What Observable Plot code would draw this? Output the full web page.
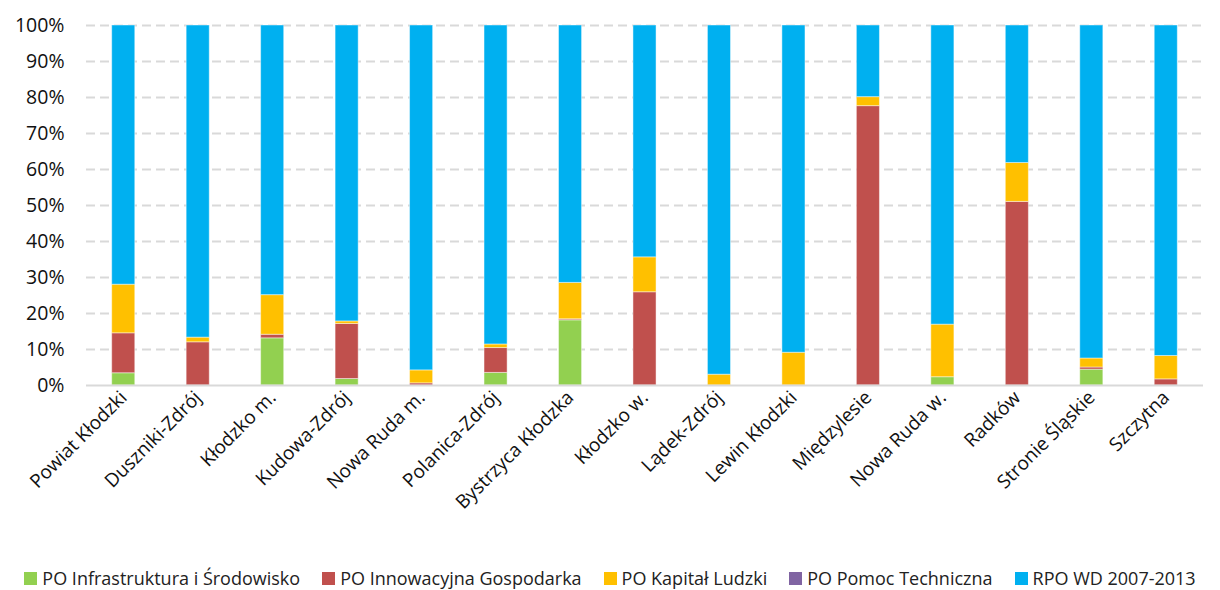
<!DOCTYPE html>
<html>
<head>
<meta charset="utf-8">
<script src="https://cdn.jsdelivr.net/npm/d3@7"></script>
<script src="https://cdn.jsdelivr.net/npm/@observablehq/plot@0.6"></script>
<style>
  body { margin: 0; background: #fff; font-family: "Open Sans", sans-serif; }
  #chart { width: 1220px; height: 590px; position: relative; }
  .legend { position: absolute; top: 566px; left: 0; width: 1220px; display: flex; justify-content: center; font-size: 18px; color: #222; }
  .legend .item { display: flex; align-items: center; margin: 0 11px; white-space: nowrap; }
  .legend .sw { width: 13px; height: 13px; margin-right: 5px; display: inline-block; }
</style>
</head>
<body>
<div id="chart"></div>
<script>
const categories = ["Powiat Kłodzki","Duszniki-Zdrój","Kłodzko m.","Kudowa-Zdrój","Nowa Ruda m.","Polanica-Zdrój","Bystrzyca Kłodzka","Kłodzko w.","Lądek-Zdrój","Lewin Kłodzki","Międzylesie","Nowa Ruda w.","Radków","Stronie Śląskie","Szczytna"];
const seriesNames = ["PO Infrastruktura i Środowisko","PO Innowacyjna Gospodarka","PO Kapitał Ludzki","PO Pomoc Techniczna","RPO WD 2007-2013"];
const seriesColors = ["#92D050","#C0504D","#FFC000","#8064A2","#00B0F0"];
const infrastruktura = [3.4, 0, 13.1, 1.8, 0, 3.5, 18.1, 0, 0, 0, 0, 2.3, 0, 4.4, 0];
const innowacyjna   = [11.1, 12.0, 1.0, 15.3, 0.6, 6.9, 0.3, 25.9, 0, 0, 77.6, 0, 51.0, 0.6, 1.7];
const kapital       = [13.5, 1.3, 11.0, 0.7, 3.6, 1.0, 10.1, 9.7, 3.0, 9.1, 2.5, 14.6, 10.8, 2.5, 6.5];
const pomoc         = [0, 0, 0, 0, 0, 0, 0, 0, 0, 0, 0, 0, 0, 0, 0];
const rpo           = [72.0, 86.7, 74.9, 82.2, 95.8, 88.6, 71.5, 64.4, 97.0, 90.9, 19.9, 83.1, 38.2, 92.5, 91.8];
const yTicks = [0,10,20,30,40,50,60,70,80,90,100];

const seriesValues = [infrastruktura, innowacyjna, kapital, pomoc, rpo];
const data = [];
categories.forEach((c, i) => {
  seriesNames.forEach((s, j) => {
    data.push({category: c, series: s, value: seriesValues[j][i] / 100});
  });
});

const plot = Plot.plot({
  width: 1220,
  height: 530,
  marginLeft: 86,
  marginRight: 17,
  marginTop: 25,
  marginBottom: 145,
  style: { fontFamily: "Open Sans, sans-serif", fontSize: "18px", color: "#111", background: "white" },
  x: { domain: categories, paddingInner: 0.69, paddingOuter: 0.345, round: false, label: null },
  y: { domain: [0, 1], label: null },
  color: { domain: seriesNames, range: seriesColors },
  marks: [
    Plot.ruleY(yTicks.filter(d => d > 0).map(d => d / 100), { stroke: "#D9D9D9", strokeWidth: 2, strokeDasharray: "9,5" }),
    Plot.barY(data, Plot.stackY({ order: seriesNames }, { x: "category", y: "value", fill: "series", stroke: "white", strokeOpacity: 0.45, strokeWidth: 1 })),
    Plot.ruleY([0], { stroke: "#D9D9D9", strokeWidth: 2 }),
    Plot.axisY(yTicks.map(d => d / 100), { tickFormat: d => Math.round(d * 100) + "%", tickSize: 0, tickPadding: 22, fontSize: 19.5, label: null }),
    Plot.axisX({ tickRotate: -45, tickSize: 0, tickPadding: 9, fontSize: 19, label: null, textOverflow: null })
  ]
});
document.getElementById("chart").appendChild(plot);

const legend = document.createElement("div");
legend.className = "legend";
seriesNames.forEach((s, j) => {
  const item = document.createElement("div");
  item.className = "item";
  const sw = document.createElement("span");
  sw.className = "sw";
  sw.style.background = seriesColors[j];
  item.appendChild(sw);
  item.appendChild(document.createTextNode(s));
  legend.appendChild(item);
});
document.getElementById("chart").appendChild(legend);
</script>
</body>
</html>
